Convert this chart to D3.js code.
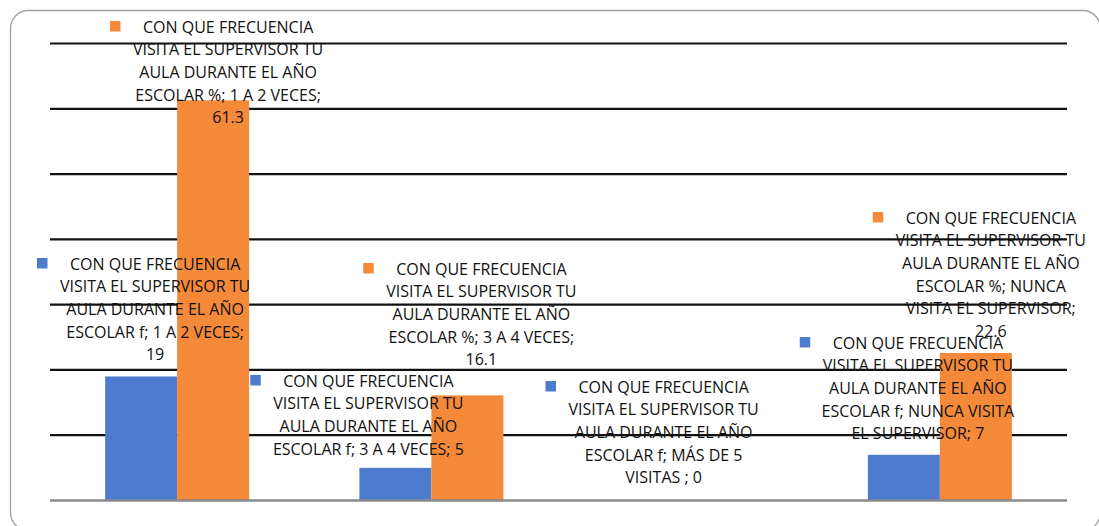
<!DOCTYPE html>
<html>
<head>
<meta charset="utf-8">
<script src="https://cdn.jsdelivr.net/npm/d3@7"></script>
<style>
  body { margin: 0; background: #fff; }
  text { font-family: "Open Sans", sans-serif; font-size: 16px; fill: #111; }
</style>
</head>
<body>
<svg id="vis" width="1099" height="526"></svg>
<script>
// data
const categories = ["1 A 2 VECES", "3 A 4 VECES", "MÁS DE 5 VISITAS ", "NUNCA VISITA EL SUPERVISOR"]
const seriesNames = ["CON QUE FRECUENCIA VISITA EL SUPERVISOR TU AULA DURANTE EL AÑO ESCOLAR f",
                     "CON QUE FRECUENCIA VISITA EL SUPERVISOR TU AULA DURANTE EL AÑO ESCOLAR %"]
const freq = [19, 5, 0, 7]
const pct = [61.3, 16.1, 0, 22.6]
const yTicks = [0, 10, 20, 30, 40, 50, 60, 70]
const colors = ["#4d7ccf", "#f5893a"]

// label placement (Excel moved labels) : [dx from bar centre, y of first line centre], null = hidden
const labelPos = [
  [[14, 264], [-27, 381], [14, 387], [14, 343]],
  [[15, 27], [14, 269], null, [15, 218]]
]

const vis = d3.select("#vis")

// chart frame
vis.append("rect")
  .attr("x", 10.5).attr("y", 10.5)
  .attr("width", 1090).attr("height", 520)
  .attr("rx", 18)
  .attr("fill", "none").attr("stroke", "#a0a0a0").attr("stroke-width", 1.3)

const margin = { left: 50, right: 1067, top: 43.5, bottom: 500.5 }

const x0 = d3.scaleBand().domain(categories).range([margin.left, margin.right])
const x1 = d3.scaleBand().domain([0, 1]).range([0, 144])
const y = d3.scaleLinear().domain([0, 70]).range([margin.bottom, margin.top])

// gridlines
vis.append("g")
  .selectAll("line")
  .data(yTicks.filter(d => d > 0))
  .enter().append("line")
  .attr("x1", margin.left).attr("x2", margin.right)
  .attr("y1", d => y(d)).attr("y2", d => y(d))
  .attr("stroke", "#111").attr("stroke-width", 2.2)

const series = [freq, pct]
const barX = (i, s) => x0(categories[i]) + (x0.bandwidth() - 144) / 2 + x1(s)

// bars
series.forEach((vals, s) => {
  vis.append("g")
    .selectAll("rect")
    .data(vals)
    .enter().append("rect")
    .attr("x", (d, i) => barX(i, s))
    .attr("y", d => y(d))
    .attr("width", x1.bandwidth())
    .attr("height", d => y(0) - y(d))
    .attr("fill", colors[s])
})

// baseline axis
vis.append("line")
  .attr("x1", margin.left).attr("x2", margin.right)
  .attr("y1", y(0)).attr("y2", y(0))
  .attr("stroke", "#8a8a8a").attr("stroke-width", 2.6)

// wrap words into lines no wider than maxW
function wrap(str, maxW) {
  const probe = vis.append("text")
  const words = str.split(" ")
  const lines = []
  let cur = ""
  words.forEach(w => {
    const test = cur ? cur + " " + w : w
    probe.text(test)
    if (cur && probe.node().getComputedTextLength() > maxW) {
      lines.push(cur)
      cur = w
    } else cur = test
  })
  if (cur) lines.push(cur)
  probe.remove()
  return lines
}

// data labels with legend keys
const lineH = 22.7
series.forEach((vals, s) => {
  vals.forEach((v, i) => {
    const pos = labelPos[s][i]
    if (!pos) return
    const cx = barX(i, s) + x1.bandwidth() / 2 + pos[0]
    const lines = wrap(seriesNames[s] + "; " + categories[i] + "; " + v, 196)
    const t = vis.append("text").attr("text-anchor", "middle")
    lines.forEach((ln, k) => {
      t.append("tspan").attr("x", cx).attr("y", pos[1] + 5.5 + k * lineH).text(ln)
    })
    const first = t.select("tspan").node().getComputedTextLength()
    vis.append("rect")
      .attr("x", cx - first / 2 - 33).attr("y", pos[1] - 6)
      .attr("width", 10.5).attr("height", 10.5)
      .attr("fill", colors[s])
  })
})
</script>
</body>
</html>
